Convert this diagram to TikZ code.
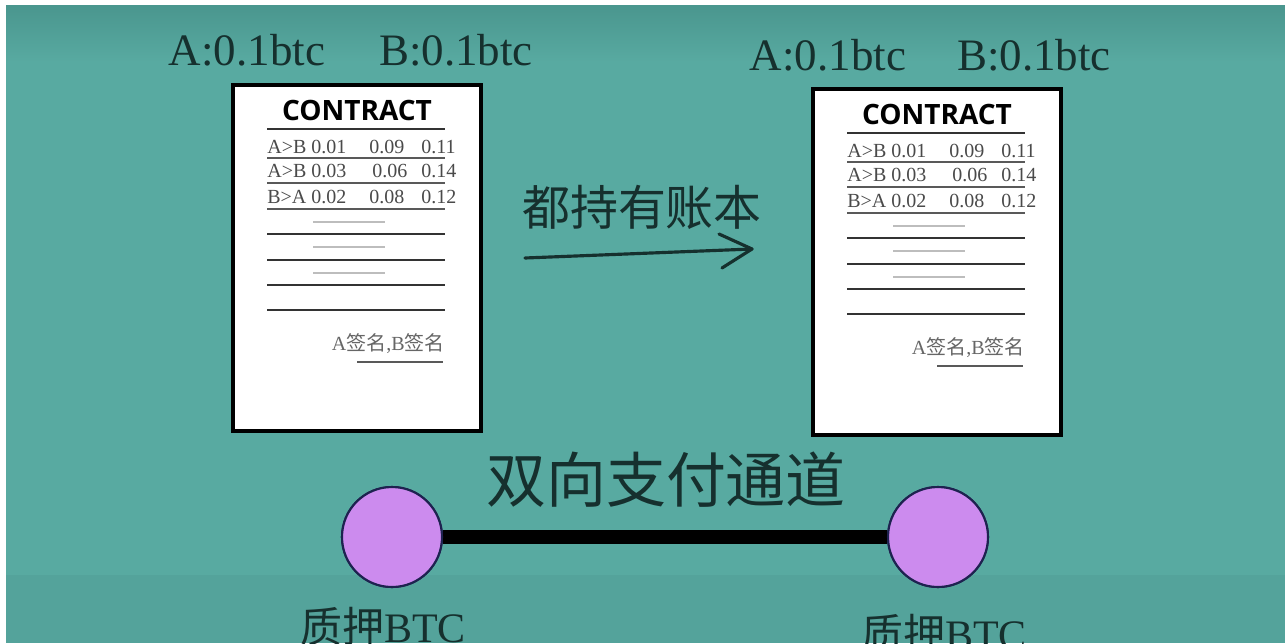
\documentclass[tikz,border=0pt]{standalone}
\usepackage{fontspec}
\usetikzlibrary{calc}
\setmainfont{Liberation Serif}
\newfontfamily\cjk{Noto Sans CJK SC}
\newfontfamily\osb{Open Sans}[UprightFont=* Bold]
\newcommand{\pxf}[1]{\fontsize{\the\dimexpr0.569pt*#1\relax}{\the\dimexpr0.66pt*#1\relax}\selectfont}
\definecolor{bgtop}{HTML}{4A968E}
\definecolor{bgmain}{HTML}{58AAA1}
\definecolor{ink}{HTML}{16302E}
\definecolor{rowgray}{HTML}{4A4A4A}
\definecolor{lightln}{HTML}{BDBDBD}
\definecolor{violet}{HTML}{CC8BEE}
\definecolor{navy}{HTML}{1E2250}
\tikzset{
  paper/.style={draw=black, fill=white, line width=2.4pt},
  rowtxt/.style={anchor=west, inner sep=0pt, text=rowgray, font=\pxf{20}},
  darkln/.style={draw=black!80, line width=1.6pt},
  midln/.style={draw=black!65, line width=1.3pt},
  lightline/.style={draw=lightln, line width=1pt},
  toplabel/.style={anchor=center, inner sep=0pt, text=ink, font=\pxf{45}},
  bigcjk/.style={anchor=center, inner sep=0pt, text=ink, font=\cjk\pxf{48}},
  node circ/.style={circle, draw=navy, line width=1.2pt, fill=violet, minimum size=2cm, inner sep=0pt},
  contract/.pic={
    \draw[paper] (233,85) rectangle (481,431);
    \node[anchor=center, inner sep=0pt, font=\osb\pxf{28}] (-title) at (357,110) {CONTRACT};
    \draw[darkln] (267,129) -- (445,129);
    \node[rowtxt] (-r1a) at (267,147) {A>B 0.01};
    \node[rowtxt] (-r1b) at (369,147) {0.09};
    \node[rowtxt] (-r1c) at (421,147) {0.11};
    \draw[midln] (267,158) -- (445,158);
    \node[rowtxt] (-r2a) at (267,171) {A>B 0.03};
    \node[rowtxt] (-r2b) at (372,171) {0.06};
    \node[rowtxt] (-r2c) at (421,171) {0.14};
    \draw[midln] (267,183) -- (445,183);
    \node[rowtxt] (-r3a) at (267,197) {B>A 0.02};
    \node[rowtxt] (-r3b) at (369,197) {0.08};
    \node[rowtxt] (-r3c) at (421,197) {0.12};
    \draw[midln] (267,209) -- (445,209);
    \draw[lightline] (313,222) -- (385,222);
    \draw[darkln] (267,234) -- (445,234);
    \draw[lightline] (313,247) -- (385,247);
    \draw[darkln] (267,260) -- (445,260);
    \draw[lightline] (313,273) -- (385,273);
    \draw[darkln] (267,285) -- (445,285);
    \draw[darkln] (267,310) -- (445,310);
    \node[anchor=east, inner sep=0pt, text=black!60, font=\pxf{20}] (-sig) at (445,344)
      {A{\cjk 签名},B{\cjk 签名}};
    \draw[midln] (357,362) -- (443,362);
  }
}
\begin{document}
\begin{tikzpicture}[x=0.02cm, y=-0.02cm]
\useasboundingbox (0,0) rectangle (1285,643);
\fill[white] (0,0) rectangle (1285,643);
\shade[top color=bgtop, bottom color=bgmain] (6,5) rectangle (1285,62);
\fill[bgmain] (6,61) rectangle (1285,643);
\fill[bgmain!96!black] (6,575) rectangle (1285,643);

% top labels
\node[toplabel] (la) at (247,50) {A:0.1btc};
\node[toplabel] (lb) at (456,50) {B:0.1btc};
\node[toplabel] (ra) at (828,55) {A:0.1btc};
\node[toplabel] (rb) at (1034,55) {B:0.1btc};

% contracts
\pic (L) at (0,0) {contract};
\pic (R) at (580,4) {contract};

% middle label and arrow
\node[bigcjk] (hold) at (642,207) {都持有账本};
\coordinate (arrS) at (525,258);
\coordinate (arrE) at (752,249);
\draw[ink, line width=1.8pt, line cap=round] (arrS) -- (arrE);
\draw[ink, line width=1.8pt, line cap=round, line join=round]
  ($(arrE)+(-33,-15)$) -- (arrE) -- ($(arrE)+(-30,19)$);

% channel
\node[bigcjk, font=\cjk\pxf{60}] (chan) at (666,480) {双向支付通道};
\node[node circ] (c1) at (392,537) {};
\node[node circ] (c2) at (938,537) {};
\draw[black, line width=8pt] (c1) -- (c2);
\node[node circ] at (c1) {};
\node[node circ] at (c2) {};
\node[anchor=center, inner sep=0pt, text=ink, font=\pxf{42}] (p1) at (383,627) {{\cjk 质押}BTC};
\node[anchor=center, inner sep=0pt, text=ink, font=\pxf{42}] (p2) at (944,634) {{\cjk 质押}BTC};
\end{tikzpicture}
\end{document}
